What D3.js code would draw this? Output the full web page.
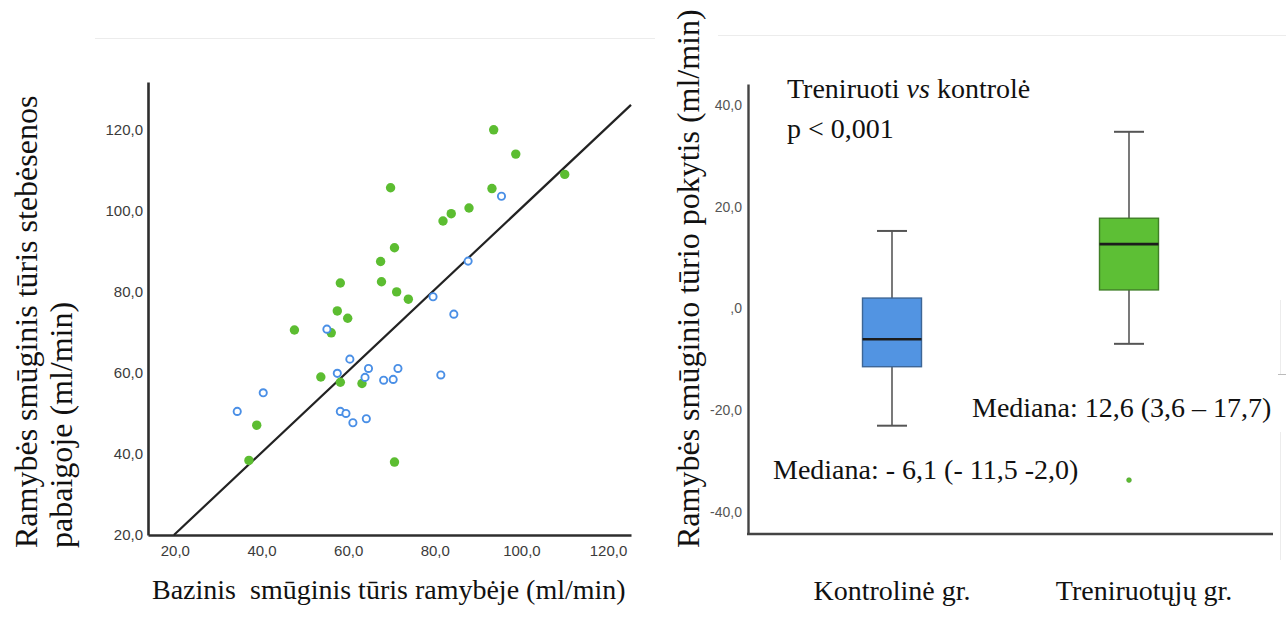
<!DOCTYPE html>
<html>
<head>
<meta charset="utf-8">
<script src="https://cdn.jsdelivr.net/npm/d3@7/dist/d3.min.js"></script>
<style>
  html, body { margin: 0; padding: 0; background: #fff; }
  svg { display: block; }
  .serif { font-family: "Liberation Serif", "Times New Roman", serif; fill: #111; }
  .tick-left text { font-family: "Liberation Sans", Arial, sans-serif; }
</style>
</head>
<body>
<svg id="chart" width="1286" height="634"></svg>
<script>
// ---- Scatter: stroke volume at rest, baseline vs. end of follow-up ----
const trainedBase = [93.6, 98.7, 110.0, 69.8, 93.2, 87.9, 83.8, 81.9, 70.7, 67.5, 58.2, 67.7,
                     71.2, 73.9, 57.5, 59.9, 47.6, 56.1, 53.7, 58.2, 63.2, 38.9, 37.1, 70.7];
const trainedEnd  = [120.0, 114.0, 109.0, 105.7, 105.5, 100.7, 99.3, 97.5, 90.9, 87.5, 82.2, 82.5,
                     80.0, 78.2, 75.3, 73.5, 70.6, 69.9, 59.0, 57.7, 57.4, 47.1, 38.4, 38.0];
const controlBase = [95.4, 87.7, 79.6, 84.4, 55.1, 60.4, 64.7, 71.5, 57.5, 63.9, 68.2, 70.4,
                     81.4, 40.4, 34.4, 58.2, 59.5, 61.1, 64.2];
const controlEnd  = [103.6, 87.6, 78.8, 74.5, 70.8, 63.4, 61.1, 61.1, 59.9, 58.9, 58.2, 58.4,
                     59.5, 55.1, 50.5, 50.5, 50.0, 47.7, 48.7];
const fitSlope = 1.006;
const fitIntercept = 0.1;
const scatterTicks = [20, 40, 60, 80, 100, 120];
const scatterTickLabels = ["20,0", "40,0", "60,0", "80,0", "100,0", "120,0"];

// ---- Box plot: change in stroke volume ----
const groups = ["Kontrolinė gr.", "Treniruotųjų gr."];
const whiskerLow  = [-23.1, -7.0];
const q1          = [-11.5, 3.6];
const medians     = [-6.1, 12.6];
const q3          = [2.0, 17.7];
const whiskerHigh = [15.2, 34.7];
const outlierGroup = [1];
const outlierValue = [-33.8];
const changeTicks = [40, 20, 0, -20, -40];
const changeTickLabels = ["40,0", "20,0", ",0", "-20,0", "-40,0"];

const GREEN = "#5cbd31";
const BLUE_RING = "#4a8fe6";
const BOX_BLUE = "#5294e2";
const BOX_GREEN = "#5dbf35";

const svg = d3.select("#chart");

// faint frame remnants of the two panels
const frame = svg.append("g").attr("stroke", "#ececec").attr("stroke-width", 1);
frame.append("line").attr("x1", 95).attr("x2", 655).attr("y1", 38.5).attr("y2", 38.5);
frame.append("line").attr("x1", 718).attr("x2", 1286).attr("y1", 35.5).attr("y2", 35.5);
frame.append("line").attr("x1", 1280.5).attr("x2", 1280.5).attr("y1", 300).attr("y2", 374);
frame.append("line").attr("x1", 1278).attr("x2", 1286).attr("y1", 374.5).attr("y2", 374.5).attr("stroke", "#bbb");
frame.append("line").attr("x1", 1280.5).attr("x2", 1280.5).attr("y1", 432).attr("y2", 560);

// ================= Left panel =================
const x = d3.scaleLinear().domain([13.8, 125.3]).range([148, 631]);
const y = d3.scaleLinear().domain([20, 131.8]).range([535, 82]);

const left = svg.append("g");

const yAxisL = left.append("g")
  .attr("transform", `translate(${x.range()[0]},0)`)
  .call(d3.axisLeft(y).tickValues(scatterTicks)
    .tickFormat((d, i) => scatterTickLabels[i]).tickSize(0).tickPadding(5));
const xAxisL = left.append("g")
  .attr("transform", `translate(0,${y.range()[0]})`)
  .call(d3.axisBottom(x).tickValues(scatterTicks)
    .tickFormat((d, i) => scatterTickLabels[i]).tickSize(0).tickPadding(10));

[yAxisL, xAxisL].forEach(g => {
  g.select(".domain").attr("stroke", "#2e2e2e").attr("stroke-width", 2.6);
  g.selectAll("text")
    .attr("font-family", "'Liberation Sans', Arial, sans-serif")
    .attr("font-size", 15)
    .attr("fill", "#3b3b3b");
});

// regression line, clipped to the axes box
const xStart = (y.domain()[0] - fitIntercept) / fitSlope;
const xEnd = x.domain()[1];
left.append("line")
  .attr("x1", x(xStart)).attr("y1", y(fitSlope * xStart + fitIntercept))
  .attr("x2", x(xEnd)).attr("y2", y(fitSlope * xEnd + fitIntercept))
  .attr("stroke", "#222").attr("stroke-width", 2.2);

left.append("g").selectAll("circle")
  .data(trainedBase.map((b, i) => [b, trainedEnd[i]]))
  .join("circle")
  .attr("cx", d => x(d[0])).attr("cy", d => y(d[1]))
  .attr("r", 4.7).attr("fill", GREEN);

left.append("g").selectAll("circle")
  .data(controlBase.map((b, i) => [b, controlEnd[i]]))
  .join("circle")
  .attr("cx", d => x(d[0])).attr("cy", d => y(d[1]))
  .attr("r", 3.6).attr("fill", "#fff")
  .attr("stroke", BLUE_RING).attr("stroke-width", 1.9);

// axis titles
const yTitleL = left.append("text").attr("class", "serif")
  .attr("font-size", 32)
  .attr("transform", "translate(37,548) rotate(-90)");
yTitleL.append("tspan").attr("x", 0).attr("y", 0).text("Ramybės smūginis tūris stebėsenos");
yTitleL.append("tspan").attr("x", 0).attr("y", 35).text("pabaigoje (ml/min)");

left.append("text").attr("class", "serif")
  .attr("x", 152).attr("y", 599)
  .attr("font-size", 28)
  .attr("xml:space", "preserve")
  .style("white-space", "pre")
  .text("Bazinis  smūginis tūris ramybėje (ml/min)");

// ================= Right panel =================
const yc = d3.scaleLinear().domain([-44.4, 44.1]).range([534, 84]);
const xc = d3.scalePoint().domain(groups).range([892, 1129]);
const labelShift = [0, 15];
const boxW = 59, capW = 30;
const axisLeftX = 748, axisRightX = 1273;

const right = svg.append("g");

const yAxisR = right.append("g")
  .attr("transform", `translate(${axisLeftX},0)`)
  .call(d3.axisLeft(yc).tickValues(changeTicks)
    .tickFormat((d, i) => changeTickLabels[i]).tickSize(0).tickPadding(6));
yAxisR.select(".domain").attr("stroke", "#444").attr("stroke-width", 2.4);
yAxisR.selectAll("text")
  .attr("font-family", "'Liberation Sans', Arial, sans-serif")
  .attr("font-size", 14)
  .attr("fill", "#555");

right.append("line")
  .attr("x1", axisLeftX - 1).attr("x2", axisRightX)
  .attr("y1", yc.range()[0]).attr("y2", yc.range()[0])
  .attr("stroke", "#444").attr("stroke-width", 2.6);

const boxes = right.append("g").selectAll("g")
  .data(groups.map((g, i) => ({ g, i })))
  .join("g");

// whiskers
boxes.append("line")
  .attr("x1", d => xc(d.g)).attr("x2", d => xc(d.g))
  .attr("y1", d => yc(whiskerLow[d.i])).attr("y2", d => yc(whiskerHigh[d.i]))
  .attr("stroke", "#6b6b6b").attr("stroke-width", 1.8);
boxes.append("line")
  .attr("x1", d => xc(d.g) - capW / 2).attr("x2", d => xc(d.g) + capW / 2)
  .attr("y1", d => yc(whiskerHigh[d.i])).attr("y2", d => yc(whiskerHigh[d.i]))
  .attr("stroke", "#555").attr("stroke-width", 2);
boxes.append("line")
  .attr("x1", d => xc(d.g) - capW / 2).attr("x2", d => xc(d.g) + capW / 2)
  .attr("y1", d => yc(whiskerLow[d.i])).attr("y2", d => yc(whiskerLow[d.i]))
  .attr("stroke", "#555").attr("stroke-width", 2);

// boxes
boxes.append("rect")
  .attr("x", d => xc(d.g) - boxW / 2)
  .attr("y", d => yc(q3[d.i]))
  .attr("width", boxW)
  .attr("height", d => yc(q1[d.i]) - yc(q3[d.i]))
  .attr("fill", d => d.i === 0 ? BOX_BLUE : BOX_GREEN)
  .attr("stroke", d => d.i === 0 ? "#3d6696" : "#3f7f26")
  .attr("stroke-width", 1.4);

// medians
boxes.append("line")
  .attr("x1", d => xc(d.g) - boxW / 2).attr("x2", d => xc(d.g) + boxW / 2)
  .attr("y1", d => yc(medians[d.i])).attr("y2", d => yc(medians[d.i]))
  .attr("stroke", "#1c1c1c").attr("stroke-width", 2.6);

// outliers
right.append("g").selectAll("circle")
  .data(outlierGroup.map((g, i) => ({ g: groups[g], v: outlierValue[i] })))
  .join("circle")
  .attr("cx", d => xc(d.g)).attr("cy", d => yc(d.v))
  .attr("r", 2.4).attr("fill", GREEN).attr("stroke", "#4a9a2a").attr("stroke-width", 0.6);

// category labels
right.append("g").selectAll("text")
  .data(groups)
  .join("text").attr("class", "serif")
  .attr("x", (d, i) => xc(d) + labelShift[i]).attr("y", 600)
  .attr("text-anchor", "middle")
  .attr("font-size", 28)
  .text(d => d);

// y title
right.append("text").attr("class", "serif")
  .attr("font-size", 32)
  .attr("transform", "translate(699,548) rotate(-90)")
  .text("Ramybės smūginio tūrio pokytis (ml/min)");

// annotations
const note = right.append("text").attr("class", "serif").attr("font-size", 28);
note.append("tspan").attr("x", 787).attr("y", 98).text("Treniruoti ");
note.append("tspan").attr("font-style", "italic").text("vs");
note.append("tspan").text(" kontrolė");
right.append("text").attr("class", "serif").attr("font-size", 28)
  .attr("x", 787).attr("y", 138).text("p < 0,001");

right.append("text").attr("class", "serif").attr("font-size", 28)
  .attr("x", 972).attr("y", 417)
  .text(`Mediana: ${String(medians[1]).replace(".", ",")} (${String(q1[1]).replace(".", ",")} – ${String(q3[1]).replace(".", ",")})`);
right.append("text").attr("class", "serif").attr("font-size", 28)
  .attr("x", 773).attr("y", 479)
  .text("Mediana: - 6,1 (- 11,5 -2,0)");
</script>
</body>
</html>
